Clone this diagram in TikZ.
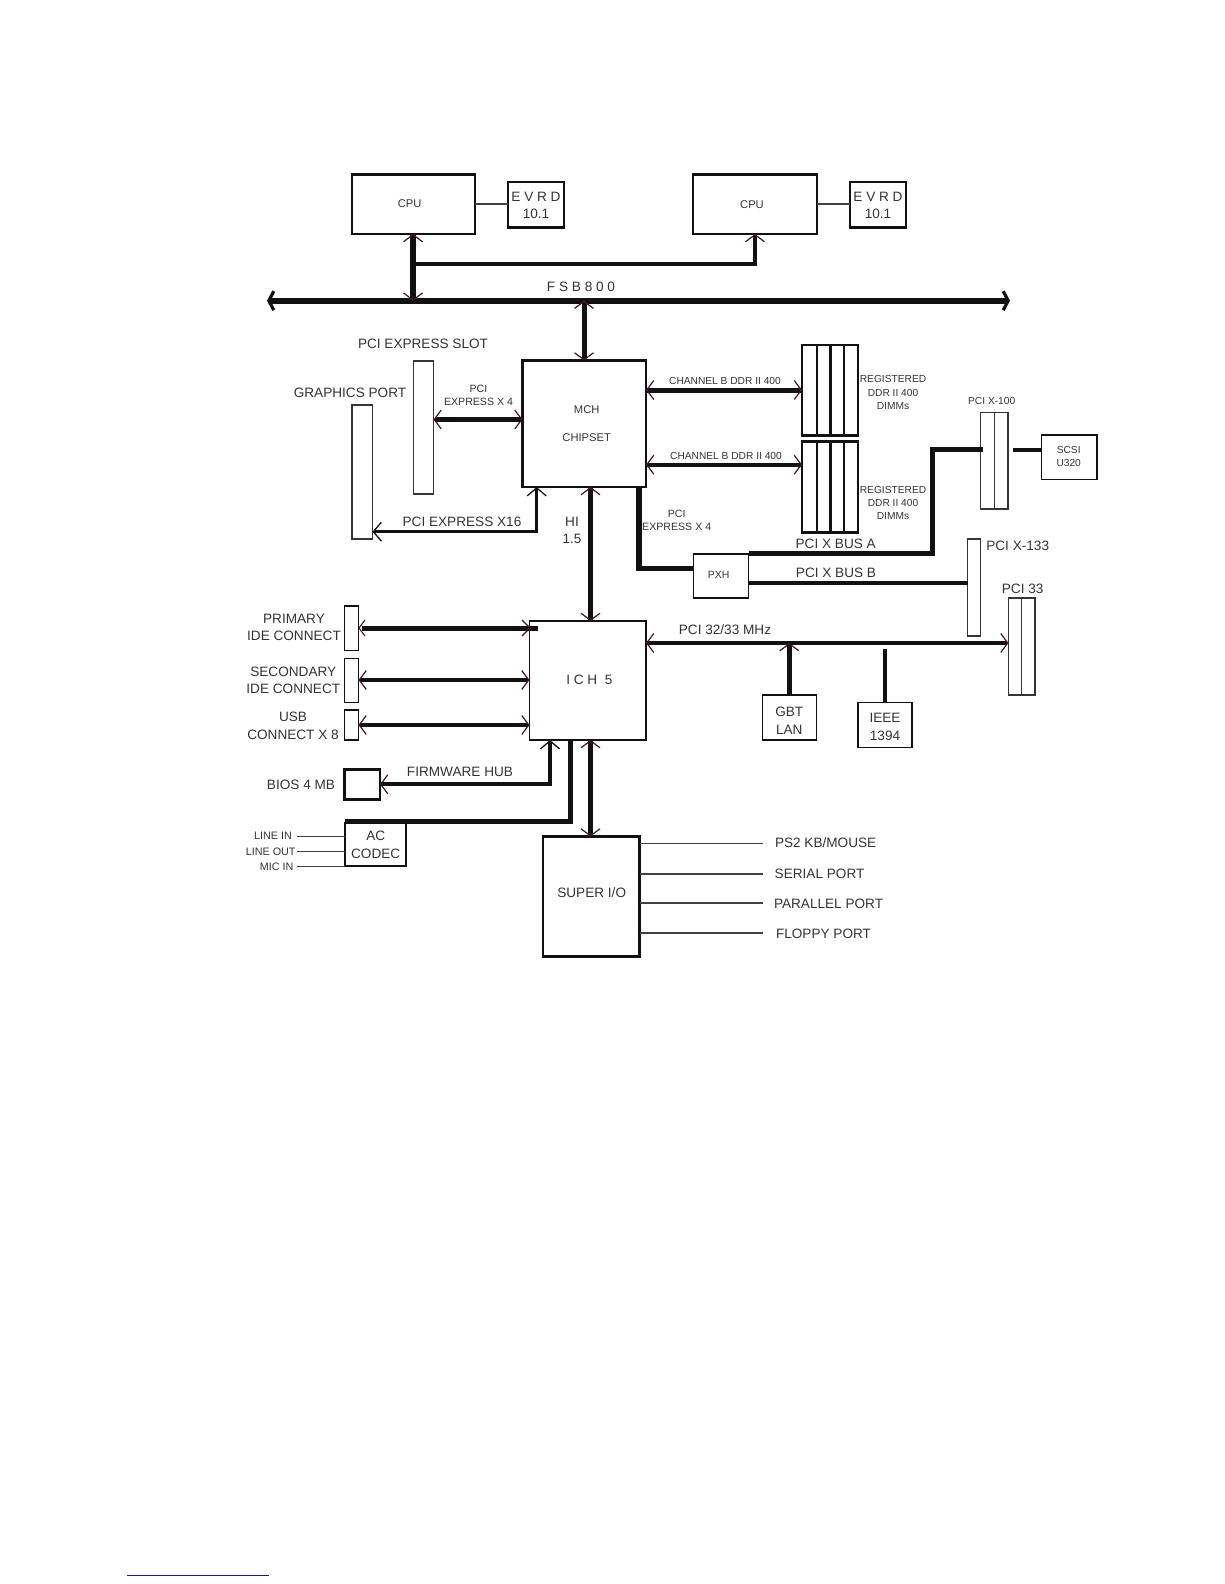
\documentclass[tikz,border=0pt]{standalone}
\usepackage{fontspec}
\setmainfont{Liberation Sans}
\usetikzlibrary{arrows.meta}
\definecolor{tipc}{HTML}{4A1030}
\definecolor{txt}{HTML}{333333}
\definecolor{ink}{HTML}{111111}
\definecolor{navyline}{HTML}{1A1A80}
\tikzset{
  chev/.tip={Straight Barb[length=7pt,width=19pt,line width=1.2pt,color=tipc]},
  bk/.tip={Straight Barb[length=8pt,width=19pt,line width=1.3pt,color=ink]},
  bigtip/.tip={Straight Barb[length=5pt,width=19pt,line width=3.2pt,color=ink]},
  boxthin/.style={draw=ink!85,line width=1.2pt,inner sep=0pt,outer sep=0pt},
  boxmid/.style={draw=ink,line width=1.6pt,inner sep=0pt,outer sep=0pt},
  boxthick/.style={draw=ink,line width=2.6pt,inner sep=0pt,outer sep=0pt},
  lab/.style={text=txt,inner sep=0pt,outer sep=0pt,align=center},
  ta/.style={lab,font=\fontsize{10.2}{13.3}\selectfont},
  tb/.style={lab,font=\fontsize{11.2}{13.5}\selectfont},
  tc/.style={lab,font=\fontsize{13.6}{17.6}\selectfont},
  tl/.style={lab,font=\fontsize{10.8}{13}\selectfont},
  bus/.style={draw=ink,line width=#1,line cap=butt,line join=miter},
  bus/.default=5pt,
  wire/.style={draw=ink!80,line width=1.3pt},
}
\newcommand{\mybox}[6][boxthin]{%
  \pgfmathsetmacro{\cxx}{(#3+#5)/2}\pgfmathsetmacro{\cyy}{(#4+#6)/2}%
  \pgfmathsetmacro{\boxw}{#5-#3}\pgfmathsetmacro{\boxh}{#6-#4}%
  \node[#1,minimum width=\boxw pt,minimum height=\boxh pt] (#2) at (\cxx,\cyy) {};}
\begin{document}
\begin{tikzpicture}[x=1pt,y=-1pt]
\useasboundingbox (0,0) rectangle (1224,1584);
% boxes
\mybox[boxthick]{cpuA}{352}{174.5}{475}{234}
\mybox[boxthick]{evrdA}{508}{182}{564}{227.5}
\mybox[boxthick]{cpuB}{693}{174.5}{817}{234}
\mybox[boxthick]{evrdB}{850}{182}{906}{227.5}
\mybox[boxthick]{mch}{522.5}{360.5}{646}{487}
\mybox{slotx}{413.5}{361}{433.5}{494}
\mybox{gfx}{352}{405}{372.5}{539}
\mybox[boxmid]{pxh}{693.5}{554}{748.5}{598}
\mybox[boxmid]{scsi}{1041.5}{435}{1097}{479.5}
\mybox{xhundred}{980.5}{412.5}{1008}{509}
\mybox{xonethree}{967.5}{539}{980.5}{636}
\mybox{pcithree}{1008.5}{598}{1035}{695}
\mybox[boxthick]{dimmA}{802}{345}{858}{435.5}
\mybox[boxthick]{dimmB}{802}{441.5}{858}{532.5}
\mybox[boxmid]{ich}{529.5}{621}{646}{740}
\mybox[boxmid]{ide}{344.5}{606}{358.5}{650.5}
\mybox[boxmid]{sec}{344.5}{658.5}{358.5}{702.5}
\mybox[boxmid]{usb}{344.5}{710}{358.5}{740}
\mybox[boxthick]{bios}{344.5}{769.5}{380}{799.5}
\mybox[boxmid]{ac}{345}{822.5}{406}{866}
\mybox[boxthick]{sio}{543}{836.5}{639.5}{956.5}
\mybox[boxmid]{gbt}{762.5}{695}{816.5}{740}
\mybox[boxmid]{ieee}{858}{702.5}{912}{747.5}
% slot dividers
\draw[ink,line width=1.8pt] (816.7,0 |- dimmA.north) -- (816.7,0 |- dimmA.south);
\draw[ink,line width=3pt] (830.3,0 |- dimmA.north) -- (830.3,0 |- dimmA.south);
\draw[ink,line width=1.8pt] (844,0 |- dimmA.north) -- (844,0 |- dimmA.south);
\draw[ink,line width=1.8pt] (816.7,0 |- dimmB.north) -- (816.7,0 |- dimmB.south);
\draw[ink,line width=3pt] (830.3,0 |- dimmB.north) -- (830.3,0 |- dimmB.south);
\draw[ink,line width=1.8pt] (844,0 |- dimmB.north) -- (844,0 |- dimmB.south);
\draw[boxthin] (994.2,0 |- xhundred.north) -- (994.2,0 |- xhundred.south);
\draw[boxthin] (1021.8,0 |- pcithree.north) -- (1021.8,0 |- pcithree.south);
% free ends of connectors
\coordinate (fsbL) at (267,300.7);
\coordinate (fsbR) at (1010,300.7);
\coordinate (junction) at (413,264);
\coordinate (ltA) at (296.7,836.7);
\coordinate (ltB) at (296.7,851.7);
\coordinate (ltC) at (296.7,866.7);
\coordinate (pA) at (763,843.7);
\coordinate (pB) at (763,874);
\coordinate (pC) at (763,903);
\coordinate (pD) at (763,933);
\coordinate (ieeeTop) at (885,648.7);
\coordinate (scsiFree) at (1012.7,449.7);
% thin wires
\draw[wire] (cpuA.east |- 0,204) -- (evrdA.west |- 0,204);
\draw[wire] (cpuB.east |- 0,204) -- (evrdB.west |- 0,204);
\draw[wire] (ltA) -- (ac.west |- ltA);
\draw[wire] (ltB) -- (ac.west |- ltB);
\draw[wire] (ltC) -- (ac.west |- ltC);
\draw[wire] (sio.east |- pA) -- (pA);
\draw[wire] (sio.east |- pB) -- (pB);
\draw[wire] (sio.east |- pC) -- (pC);
\draw[wire] (sio.east |- pD) -- (pD);
% front side bus
\draw[bus=6pt,{bigtip}-{bigtip}] (fsbL) -- (fsbR);
\draw[bus=6pt,{chev}-{chev}] (413,0 |- cpuA.south) -- (413,0 |- fsbL);
\draw[bus=4.5pt,-{chev}] (junction) -- (755,264) -- (755,0 |- cpuB.south);
\draw[bus=5pt,{chev}-{chev}] (584,0 |- fsbL) -- (584,0 |- mch.north);
% MCH
\draw[bus=4.5pt,{chev}-{chev}] (slotx.east |- 0,419.5) -- (mch.west |- 0,419.5);
\draw[bus=2.6pt,{bk}-{bk}] (536.7,0 |- mch.south) -- (536.7,531.7) -- (gfx.east |- 0,531.7);
\draw[bus=5pt,{chev}-{chev}] (mch.east |- 0,390) -- (dimmA.west |- 0,390);
\draw[bus=4pt,{chev}-{chev}] (mch.east |- 0,464.7) -- (dimmB.west |- 0,464.7);
\draw[bus=5pt,{chev}-{chev}] (590.5,0 |- mch.south) -- (590.5,0 |- ich.north);
\draw[bus=5.5pt] (639,0 |- mch.south) -- (639,568.3) -- (pxh.west |- 0,568.3);
% PXH
\draw[bus=5pt] (pxh.east |- 0,553.3) -- (932.7,553.3) -- (932.7,449.7) -- (982.7,449.7);
\draw[bus=4pt] (scsiFree) -- (scsi.west |- scsiFree);
\draw[bus=4pt] (pxh.east |- 0,583.3) -- (xonethree.west |- 0,583.3);
% ICH
\draw[bus=4pt,{chev}-{chev}] (ich.east |- 0,643) -- (pcithree.west |- 0,643);
\draw[bus=4.5pt,-{chev}] (gbt.north -| 789.3,0) -- (789.3,643);
\draw[bus=4.5pt] (ieee.north -| 885,0) -- (ieeeTop);
\draw[bus=5pt] (362,628) -- (537.5,628);
\draw[tipc,line width=1.1pt] (365,620) -- (359,628) -- (365,636);
\draw[tipc,line width=1.1pt] (522,620) -- (530,628) -- (522,636);
\draw[bus=4pt,{chev}-{chev}] (sec.east |- 0,680) -- (ich.west |- 0,680);
\draw[bus=4pt,{chev}-{chev}] (usb.east |- 0,725) -- (ich.west |- 0,725);
\draw[bus=4.2pt,{chev}-{bk}] (bios.east |- 0,784.3) -- (550,784.3) -- (550,0 |- ich.south);
\draw[bus=4.5pt] (570.3,0 |- ich.south) -- (570.3,821.7) -- (ac.north west |- 0,821.7);
\draw[bus=5pt,{chev}-{chev}] (590.5,0 |- ich.south) -- (590.5,0 |- sio.north);
% blue rule
\coordinate (ruleA) at (127,1575);
\coordinate (ruleB) at (269,1575);
\draw[navyline,line width=1pt] (ruleA) -- (ruleB);
% texts
\node[tb] (tCpuA) at (409.7,204) {CPU};
\node[tc] (tEvA) at (536,196.5) {E V R D};
\node[tc] (tVrA) at (536,214) {10.1};
\node[tb] (tCpuB) at (752,204.5) {CPU};
\node[tc] (tEvB) at (878,196.5) {E V R D};
\node[tc] (tVrB) at (878,214) {10.1};
\node[tc] (tFsb) at (581,287) {F S B 8 0 0};
\node[tc] (tSlot) at (423,344) {PCI EXPRESS SLOT};
\node[tc] (tGfx) at (350,393) {GRAPHICS PORT};
\node[tb,font=\fontsize{10.6}{13.5}\selectfont] (tXfour) at (478.5,395.5) {PCI\\EXPRESS X 4};
\node[tc] (tXsix) at (462,521.5) {PCI EXPRESS X16};
\node[tc] (tHi) at (572,530.5) {HI\\1.5};
\node[tb] (tMch) at (586.7,409.5) {MCH};
\node[tb] (tChip) at (586.7,438) {CHIPSET};
\node[ta] (tChA) at (725,380.5) {CHANNEL B DDR II 400};
\node[ta] (tChB) at (726,455.8) {CHANNEL B DDR II 400};
\node[ta] (tRegA) at (893,392.5) {REGISTERED\\DDR II 400\\DIMMs};
\node[ta] (tRegB) at (893,503) {REGISTERED\\DDR II 400\\DIMMs};
\node[tb,font=\fontsize{10.6}{13.5}\selectfont] (tXfourB) at (676.7,520.5) {PCI\\EXPRESS X 4};
\node[ta] (tXhun) at (991.7,401) {PCI X-100};
\node[ta] (tScsi) at (1068.7,456.5) {SCSI\\U320};
\node[tc] (tBusA) at (835.7,543.5) {PCI X BUS A};
\node[tc] (tBusB) at (836,573) {PCI X BUS B};
\node[tb,font=\fontsize{10.5}{13}\selectfont] (tPxh) at (718.7,575) {PXH};
\node[tc] (tXot) at (1017.7,545.5) {PCI X-133};
\node[tc] (tPcith) at (1022.7,588.5) {PCI 33};
\node[tc] (tPci) at (725,629.5) {PCI 32/33 MHz};
\node[tc] (tGbt) at (789.3,720.5) {GBT\\LAN};
\node[tc] (tIeee) at (885,727) {IEEE\\1394};
\node[tc] (tIch) at (589.3,680) {I C H~~5};
\node[tc] (tIde) at (294,627.5) {PRIMARY\\IDE CONNECT};
\node[tc] (tSec) at (293.3,680.3) {SECONDARY\\IDE CONNECT};
\node[tc] (tUsb) at (293,725.7) {USB\\CONNECT X 8};
\node[tc] (tBios) at (301,785) {BIOS 4 MB};
\node[tc] (tFw) at (460,772) {FIRMWARE HUB};
\node[tc] (tAc) at (375.7,845) {AC\\CODEC};
\node[tl] (tLi) at (273,836) {LINE IN};
\node[tl] (tLo) at (270.7,851.7) {LINE OUT};
\node[tl] (tMi) at (276.7,867) {MIC IN};
\node[tc] (tSio) at (591.7,893) {SUPER I/O};
\node[tc,anchor=west] (tPs) at (775,843) {PS2 KB/MOUSE};
\node[tc,anchor=west] (tSer) at (774.7,873.5) {SERIAL PORT};
\node[tc,anchor=west] (tPar) at (774,904) {PARALLEL PORT};
\node[tc,anchor=west] (tFl) at (776,933.5) {FLOPPY PORT};
\end{tikzpicture}
\end{document}
